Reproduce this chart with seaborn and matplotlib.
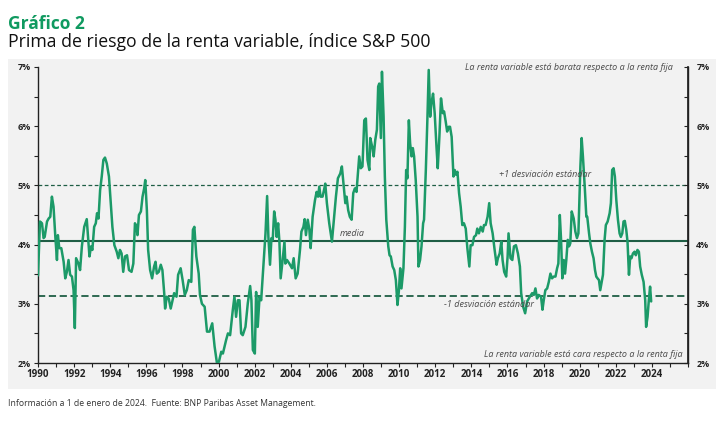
import matplotlib
matplotlib.use("Agg")
import matplotlib.pyplot as plt
import seaborn as sns
from matplotlib.patches import Rectangle
from matplotlib.ticker import MultipleLocator, FuncFormatter

# prima de riesgo (%), fecha en años decimales
fechas = [
    1990.00, 1990.11, 1990.22, 1990.31, 1990.37, 1990.50, 1990.59, 1990.68, 1990.77, 1990.86,
    1990.96, 1991.05, 1991.10, 1991.18, 1991.29, 1991.42, 1991.51, 1991.60, 1991.69, 1991.78,
    1991.88, 1991.97, 1992.04, 1992.11, 1992.24, 1992.33, 1992.43, 1992.56, 1992.70, 1992.79,
    1992.85, 1992.94, 1993.01, 1993.11, 1993.20, 1993.27, 1993.35, 1993.44, 1993.53, 1993.62,
    1993.71, 1993.81, 1993.93, 1994.03, 1994.12, 1994.23, 1994.36, 1994.45, 1994.54, 1994.63,
    1994.72, 1994.82, 1994.93, 1995.04, 1995.18, 1995.28, 1995.37, 1995.46, 1995.51, 1995.59,
    1995.70, 1995.79, 1995.88, 1995.94, 1996.03, 1996.10, 1996.21, 1996.32, 1996.43, 1996.51,
    1996.58, 1996.69, 1996.80, 1996.89, 1996.99, 1997.04, 1997.13, 1997.24, 1997.35, 1997.44,
    1997.54, 1997.67, 1997.76, 1997.90, 1998.01, 1998.13, 1998.24, 1998.35, 1998.49, 1998.58,
    1998.66, 1998.77, 1998.90, 1998.97,
    1999.08, 1999.23, 1999.36, 1999.50, 1999.65, 1999.78, 1999.91, 2000.02, 2000.15, 2000.24,
    2000.42, 2000.52, 2000.64, 2000.79, 2000.88, 2000.97, 2001.07, 2001.16, 2001.25, 2001.34,
    2001.49, 2001.62, 2001.75, 2001.82, 2001.90, 2002.01, 2002.08, 2002.17, 2002.27, 2002.36,
    2002.49, 2002.60, 2002.69, 2002.76, 2002.85, 2002.93, 2003.00, 2003.08, 2003.15, 2003.22,
    2003.30, 2003.37, 2003.44, 2003.55, 2003.65, 2003.70, 2003.79, 2003.92, 2004.07, 2004.16,
    2004.27, 2004.38, 2004.51, 2004.59, 2004.70, 2004.77, 2004.84, 2004.94, 2005.03, 2005.10,
    2005.21, 2005.34, 2005.43, 2005.51, 2005.58, 2005.65, 2005.76, 2005.86, 2005.91, 2006.00,
    2006.13, 2006.28, 2006.39, 2006.50, 2006.61, 2006.74, 2006.83, 2006.92, 2007.02, 2007.09,
    2007.18, 2007.27, 2007.37, 2007.46, 2007.55, 2007.64, 2007.79, 2007.88, 2007.97, 2008.07,
    2008.16,
    2008.25, 2008.35, 2008.40, 2008.51, 2008.59, 2008.68, 2008.77, 2008.84, 2008.90, 2008.95,
    2008.99, 2009.05, 2009.14, 2009.21, 2009.29, 2009.40, 2009.47, 2009.54, 2009.64, 2009.73,
    2009.82, 2009.91, 2009.99, 2010.06, 2010.13, 2010.24, 2010.32, 2010.39, 2010.46, 2010.54,
    2010.61, 2010.69, 2010.76, 2010.83, 2010.92, 2011.02, 2011.07, 2011.16, 2011.24, 2011.33,
    2011.38, 2011.48, 2011.57, 2011.64, 2011.72, 2011.79, 2011.88, 2011.97, 2012.07, 2012.14,
    2012.23, 2012.32, 2012.42, 2012.49, 2012.58, 2012.66, 2012.75, 2012.82, 2012.91, 2013.01,
    2013.08, 2013.15, 2013.23, 2013.32, 2013.41, 2013.50, 2013.59, 2013.69, 2013.78, 2013.89,
    2013.96, 2014.06, 2014.15, 2014.26, 2014.33, 2014.42, 2014.52, 2014.63, 2014.70, 2014.79,
    2014.90, 2014.99, 2015.07, 2015.18, 2015.29, 2015.40, 2015.47, 2015.57, 2015.66, 2015.73,
    2015.82, 2015.93, 2016.01, 2016.06, 2016.17, 2016.27, 2016.36, 2016.47, 2016.58, 2016.69,
    2016.76, 2016.87, 2016.98,
    2017.09, 2017.24, 2017.37, 2017.46, 2017.55, 2017.64, 2017.73, 2017.86, 2017.94, 2018.01,
    2018.10, 2018.20, 2018.29, 2018.38, 2018.47, 2018.56, 2018.66, 2018.75, 2018.82, 2018.90,
    2018.97, 2019.04, 2019.12, 2019.19, 2019.26, 2019.34, 2019.41, 2019.48, 2019.56, 2019.67,
    2019.76, 2019.85, 2019.93, 2020.04, 2020.11, 2020.18, 2020.28, 2020.37, 2020.42, 2020.52,
    2020.59, 2020.68, 2020.77, 2020.85, 2020.92, 2020.99, 2021.07, 2021.14, 2021.22, 2021.29,
    2021.38, 2021.45, 2021.55, 2021.66, 2021.73, 2021.80, 2021.88, 2021.95, 2022.03, 2022.12,
    2022.21, 2022.28, 2022.36, 2022.43, 2022.50, 2022.58, 2022.65, 2022.73, 2022.80, 2022.87,
    2022.95, 2023.04, 2023.11, 2023.20, 2023.28, 2023.35, 2023.44, 2023.54, 2023.63, 2023.68,
    2023.76, 2023.83, 2023.90, 2023.96,
]
prima = [
    3.48, 4.39, 4.36, 4.11, 4.13, 4.39, 4.44, 4.47, 4.81, 4.64,
    4.13, 3.74, 4.16, 3.94, 3.94, 3.71, 3.43, 3.54, 3.74, 3.49,
    3.46, 3.23, 2.59, 3.77, 3.68, 3.57, 3.97, 4.30, 4.43, 4.05,
    3.80, 3.97, 3.91, 4.30, 4.36, 4.53, 4.44, 4.92, 5.15, 5.43,
    5.47, 5.37, 5.15, 4.70, 4.30, 3.99, 3.88, 3.77, 3.91, 3.85,
    3.54, 3.80, 3.82, 3.57, 3.54, 3.68, 4.36, 4.30, 4.16, 4.50,
    4.56, 4.81, 4.95, 5.09, 4.58, 3.91, 3.57, 3.43, 3.63, 3.71,
    3.51, 3.54, 3.66, 3.57, 3.18, 2.92, 3.12, 3.09, 2.92, 3.04,
    3.18, 3.12, 3.49, 3.60, 3.40, 3.15, 3.23, 3.40, 3.37, 4.25,
    4.30, 3.80, 3.51, 3.15,
    3.00, 2.95, 2.53, 2.53, 2.67, 2.28, 2.00, 2.02, 2.19, 2.16,
    2.39, 2.50, 2.47, 2.90, 3.12, 2.78, 3.06, 3.06, 2.50, 2.47,
    2.61, 3.01, 3.30, 3.06, 2.22, 2.16, 3.20, 2.61, 3.12, 3.06,
    3.68, 4.19, 4.82, 4.13, 3.66, 4.11, 4.08, 4.56, 4.42, 4.13,
    4.36, 4.05, 3.43, 3.74, 4.05, 3.68, 3.74, 3.68, 3.60, 3.77,
    3.43, 3.51, 3.91, 4.22, 4.30, 4.43, 4.16, 4.42, 4.25, 3.94,
    4.47, 4.75, 4.89, 4.81, 4.98, 4.81, 4.81, 4.95, 5.03, 4.70,
    4.36, 4.05, 4.44, 4.81, 5.12, 5.20, 5.32, 5.03, 4.70, 4.81,
    4.58, 4.47, 4.42, 4.87, 4.95, 4.89, 5.49, 5.29, 5.32, 6.10,
    6.13,
    5.43, 5.26, 5.80, 5.65, 5.49, 5.77, 5.94, 6.67, 6.72, 6.22,
    5.80, 6.92, 6.16, 5.15, 4.42, 3.97, 3.82, 3.80, 3.63, 3.57,
    3.40, 2.98, 3.23, 3.60, 3.26, 3.60, 4.30, 5.26, 5.12, 6.10,
    5.71, 5.49, 5.63, 5.49, 5.09, 4.47, 3.63, 3.74, 3.97, 4.36,
    4.42, 5.26, 6.16, 6.95, 6.16, 6.39, 6.55, 6.22, 5.65, 5.29,
    5.82, 6.47, 6.22, 6.25, 6.08, 5.91, 5.99, 5.99, 5.82, 5.15,
    5.26, 5.18, 5.23, 4.87, 4.64, 4.33, 4.36, 4.27, 3.94, 3.63,
    3.99, 3.99, 4.13, 4.16, 4.27, 4.19, 4.30, 4.22, 4.33, 4.33,
    4.47, 4.70, 4.36, 4.19, 3.91, 3.66, 3.77, 3.85, 4.05, 3.74,
    3.54, 3.46, 3.80, 4.19, 3.77, 3.74, 3.97, 3.99, 3.85, 3.63,
    3.18, 2.95, 2.84,
    3.04, 3.12, 3.18, 3.15, 3.26, 3.09, 3.15, 3.12, 2.90, 3.06,
    3.23, 3.26, 3.37, 3.51, 3.43, 3.46, 3.46, 3.60, 3.68, 4.50,
    4.08, 3.43, 3.74, 3.51, 3.74, 4.08, 3.97, 4.02, 4.56, 4.44,
    4.22, 4.11, 4.19, 5.32, 5.80, 5.49, 4.98, 4.47, 4.47, 4.19,
    4.02, 3.88, 3.77, 3.57, 3.46, 3.43, 3.40, 3.23, 3.37, 3.49,
    4.08, 4.33, 4.39, 4.53, 4.70, 5.26, 5.29, 5.15, 4.75, 4.42,
    4.19, 4.13, 4.19, 4.39, 4.40, 4.25, 4.05, 3.49, 3.80, 3.77,
    3.85, 3.88, 3.82, 3.91, 3.88, 3.63, 3.49, 3.37, 3.06, 2.61,
    2.78, 3.06, 3.29, 3.04,
]

media = 4.06
desv_sup = 5.00
desv_inf = 3.13

anios_ticks = list(range(1990, 2025, 2))
pct_ticks = [2, 3, 4, 5, 6, 7]

titulo = "Gráfico 2"
subtitulo = "Prima de riesgo de la renta variable, índice S&P 500"
fuente = "Información a 1 de enero de 2024.  Fuente: BNP Paribas Asset Management."
txt_barata = "La renta variable está barata respecto a la renta fija"
txt_cara = "La renta variable está cara respecto a la renta fija"

VERDE = "#1c9a68"
VERDE_OSCURO = "#1f5e45"
GRIS_PANEL = "#f2f2f2"
GRIS_TXT = "#4a4a4a"

sns.set_theme(style="white")
plt.rcParams["font.family"] = ["Open Sans", "DejaVu Sans"]

fig = plt.figure(figsize=(7.25, 4.23), dpi=100)
fig.patch.set_facecolor("white")
fondo = Rectangle((8 / 725, 1 - 389 / 423), 708 / 725, 330 / 423,
                  transform=fig.transFigure, facecolor=GRIS_PANEL,
                  edgecolor="none", zorder=-10)
fig.add_artist(fondo)

ax = fig.add_axes([38 / 725, 1 - 363 / 423, 650 / 725, 296 / 423])
ax.set_facecolor("none")
ax.set_zorder(2)

# lineas de referencia
ax.axhline(media, color=VERDE_OSCURO, lw=1.5, zorder=2)
ax.axhline(desv_sup, color=VERDE_OSCURO, lw=0.9, ls=(0, (3, 2)), zorder=2)
ax.axhline(desv_inf, color=VERDE_OSCURO, lw=1.3, ls=(0, (4, 2)), zorder=2)

sns.lineplot(x=fechas, y=prima, ax=ax, color=VERDE, lw=1.8, sort=False,
             estimator=None, zorder=3)

ax.set_xlim(1990, 2026)
ax.set_ylim(2, 7)
ax.set_xticks(anios_ticks)
ax.xaxis.set_minor_locator(MultipleLocator(1))
ax.set_yticks(pct_ticks)
ax.yaxis.set_minor_locator(MultipleLocator(0.5))
ax.yaxis.set_major_formatter(FuncFormatter(lambda v, p: f"{v:.0f}%"))

ax.spines["top"].set_visible(False)
for s in ["left", "bottom", "right"]:
    ax.spines[s].set_color("#222222")
    ax.spines[s].set_linewidth(1.0)

ax.tick_params(axis="x", which="both", direction="out", length=3, width=0.8,
               color="#222222", labelsize=7, pad=1.5, bottom=True)
ax.tick_params(axis="y", which="both", direction="out", length=3, width=0.8,
               color="#222222", labelsize=6.5, pad=2, left=True)
for lab in ax.get_xticklabels() + ax.get_yticklabels():
    lab.set_fontweight("bold")
    lab.set_color("#222222")

# eje derecho
ax2 = ax.twinx()
ax2.set_ylim(2, 7)
ax2.set_yticks(pct_ticks)
ax2.yaxis.set_minor_locator(MultipleLocator(0.5))
ax2.yaxis.set_major_formatter(FuncFormatter(lambda v, p: f"{v:.0f}%"))
for s in ["top", "left", "bottom"]:
    ax2.spines[s].set_visible(False)
ax2.spines["right"].set_color("#222222")
ax2.tick_params(axis="y", which="both", direction="in", length=3, width=0.8,
                color="#222222", labelsize=6.5, pad=6)
for lab in ax2.get_yticklabels():
    lab.set_fontweight("bold")
    lab.set_color("#222222")

# textos dentro del grafico
ax.text(2025.15, 7.0, txt_barata, ha="right", va="center", style="italic",
        fontsize=6.5, color=GRIS_TXT)
ax.text(2025.7, 2.15, txt_cara, ha="right", va="center", style="italic",
        fontsize=6.5, color=GRIS_TXT)
ax.text(2018.1, 5.19, "+1 desviación estándar", ha="center", va="center",
        style="italic", fontsize=6.5, color=GRIS_TXT)
ax.text(2007.43, 4.19, "media", ha="center", va="center", style="italic",
        fontsize=6.5, color=GRIS_TXT)
ax.text(2015.0, 2.98, "-1 desviación estándar", ha="center", va="center",
        style="italic", fontsize=6.5, color=GRIS_TXT)

fig.text(8 / 725, 1 - 24 / 423, titulo, ha="left", va="center", fontsize=12.5,
         fontweight="bold", color="#109a60")
fig.text(8 / 725, 1 - 42 / 423, subtitulo, ha="left", va="center",
         fontsize=12.7, color="#111111")
fig.text(8 / 725, 1 - 403 / 423, fuente, ha="left", va="center", fontsize=6.2,
         color="#333333")

fig.savefig("out.png", dpi=100, facecolor=fig.get_facecolor())
